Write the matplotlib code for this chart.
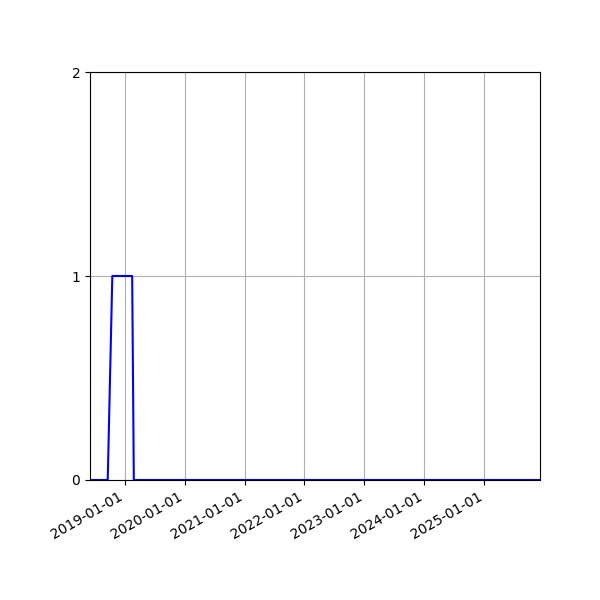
import matplotlib
matplotlib.use("Agg")
import matplotlib.pyplot as plt
import matplotlib.dates as mdates
import numpy as np

# dates / flag values
dates = np.array(["2018-06-04", "2018-09-20", "2018-10-18", "2019-02-16",
                  "2019-02-26", "2025-12-06"], dtype="datetime64[D]")
values = [0, 0, 1, 1, 0, 0]
y_ticks = [0, 1, 2]

fig, ax = plt.subplots(figsize=(6, 6), dpi=100)
fig.subplots_adjust(left=0.15, right=0.9, top=0.88)
ax.plot(dates, values, color="blue")

ax.set_xlim(dates[0], dates[-1])
ax.set_ylim(0, 2)
ax.set_yticks(y_ticks)
ax.xaxis.set_major_locator(mdates.YearLocator())
ax.xaxis.set_major_formatter(mdates.DateFormatter("%Y-%m-%d"))
ax.grid(True)
fig.autofmt_xdate()

fig.savefig("out.png")
